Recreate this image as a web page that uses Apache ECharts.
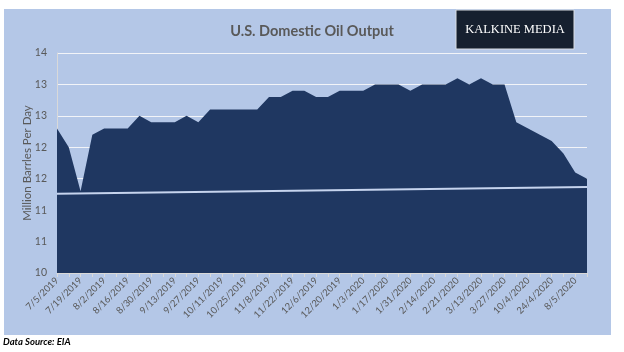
<!DOCTYPE html>
<html>
<head>
<meta charset="utf-8">
<script src="https://cdn.jsdelivr.net/npm/echarts@6/dist/echarts.min.js"></script>
<style>
html, body { margin: 0; padding: 0; background: #fff; }
#wrap { position: relative; width: 624px; height: 352px; }
#panel { position: absolute; left: 4px; top: 9px; width: 607px; height: 326px; background: #b4c7e7; }
#main { position: absolute; left: 0; top: 0; width: 624px; height: 352px; }
</style>
</head>
<body>
<div id="wrap">
  <div id="panel"></div>
  <div id="main"></div>
</div>
<script>
// weekly dates (every other one is labelled on the chart)
var dates = [
	"7/5/2019", "7/12/2019", "7/19/2019", "7/26/2019", "8/2/2019", "8/9/2019",
	"8/16/2019", "8/23/2019", "8/30/2019", "9/6/2019", "9/13/2019", "9/20/2019",
	"9/27/2019", "10/4/2019", "10/11/2019", "10/18/2019", "10/25/2019", "11/1/2019",
	"11/8/2019", "11/15/2019", "11/22/2019", "11/29/2019", "12/6/2019", "12/13/2019",
	"12/20/2019", "12/27/2019", "1/3/2020", "1/10/2020", "1/17/2020", "1/24/2020",
	"1/31/2020", "2/7/2020", "2/14/2020", "2/17/2020", "2/21/2020", "3/6/2020",
	"3/13/2020", "3/20/2020", "3/27/2020", "3/4/2020", "10/4/2020", "17/4/2020",
	"24/4/2020", "1/5/2020", "8/5/2020", "15/5/2020"
];
// million barrels per day
var output = [
	12.3, 12.0, 11.3, 12.2, 12.3, 12.3, 12.3, 12.5, 12.4, 12.4,
	12.4, 12.5, 12.4, 12.6, 12.6, 12.6, 12.6, 12.6, 12.8, 12.8,
	12.9, 12.9, 12.8, 12.8, 12.9, 12.9, 12.9, 13.0, 13.0, 13.0,
	12.9, 13.0, 13.0, 13.0, 13.1, 13.0, 13.1, 13.0, 13.0, 12.4,
	12.3, 12.2, 12.1, 11.9, 11.6, 11.5
];
// trend line ends
var trendStart = 11.26;
var trendEnd = 11.37;

var trend = dates.map(function(d, i){
	if (i === 0) return trendStart;
	if (i === dates.length - 1) return trendEnd;
	return null;
});

var txt = "#595959";
var chart = echarts.init(document.getElementById("main"));
chart.setOption({
	backgroundColor: "transparent",
	animation: false,
	title: {
		text: "U.S. Domestic Oil Output",
		left: 307,
		top: 19,
		textAlign: "center",
		textStyle: { color: txt, fontFamily: "Lato", fontWeight: "bold", fontSize: 14.5 }
	},
	graphic: [{
		type: "rect",
		shape: { x: 456, y: 10, width: 118, height: 39 },
		style: { fill: "#16202f", stroke: "#d9dde3", lineWidth: 1 },
		z: 100
	}, {
		type: "text",
		x: 515, y: 30,
		style: {
			text: "KALKINE MEDIA", fill: "#ffffff", align: "center", verticalAlign: "middle",
			font: "12.5px 'Liberation Serif'"
		},
		z: 101
	}, {
		type: "text",
		x: 3, y: 342,
		style: {
			text: "Data Source: EIA", fill: "#000", verticalAlign: "middle",
			font: "italic bold 9.5px Lato"
		}
	}],
	grid: { left: 57, right: 37, top: 53, bottom: 79 },
	xAxis: {
		type: "category",
		data: dates,
		boundaryGap: false,
		axisLine: { lineStyle: { color: "#d9d9d9" } },
		axisTick: { interval: 0, length: 4, lineStyle: { color: "#d9d9d9" } },
		axisLabel: {
			interval: 1, rotate: 45, margin: 6, color: txt,
			fontFamily: "Lato", fontSize: 9.5
		},
		splitLine: { show: false }
	},
	yAxis: {
		type: "value",
		min: 10,
		max: 13.5,
		interval: 0.5,
		name: "Million Barrles Per Day",
		nameLocation: "middle",
		nameGap: 24,
		nameMoveOverlap: false,
		nameTextStyle: { color: txt, fontFamily: "Lato", fontSize: 11.5 },
		axisLine: { show: true, lineStyle: { color: "#d9d9d9" } },
		axisTick: { show: false },
		axisLabel: {
			color: txt, fontFamily: "Lato", fontSize: 10.5, margin: 10,
			formatter: function(v){ return Math.round(v); }
		},
		splitLine: { lineStyle: { color: "#f2f4f8", width: 1 } }
	},
	series: [{
		type: "line",
		data: output,
		symbol: "none",
		lineStyle: { width: 0 },
		areaStyle: { color: "#1f3761", opacity: 1 },
		z: 2
	}, {
		type: "line",
		data: trend,
		connectNulls: true,
		symbol: "none",
		lineStyle: { color: "#c6d4ee", width: 2 },
		z: 3
	}]
});
</script>
</body>
</html>
